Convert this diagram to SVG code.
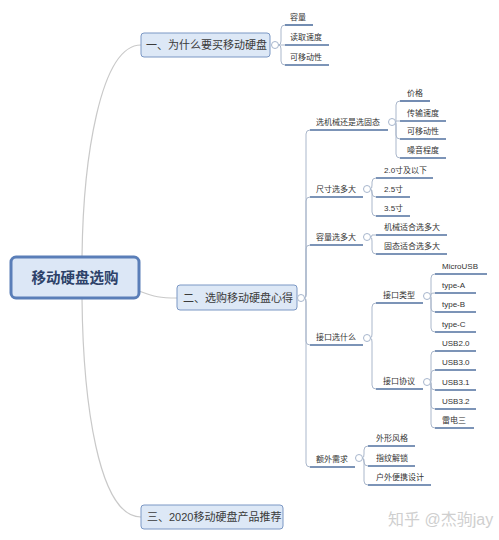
<svg xmlns="http://www.w3.org/2000/svg" width="499" height="540" viewBox="0 0 499 540">
<style>
text{font-family:"Liberation Sans","Noto Sans CJK SC",sans-serif;fill:#333}
.root rect{fill:#dce7f6;stroke:#5a7eb8;stroke-width:3}
.root text{font-size:14.5px;font-weight:bold;fill:#2d4169}
.br rect{fill:#dde8f6;stroke:#7b97c4;stroke-width:1}
.br text{font-size:11px;fill:#3a3a3a}
.lf text{font-size:8px}
.ul{stroke:#50709f;stroke-width:1.6;fill:none}
.c{fill:#fff;stroke:#a7b6cd;stroke-width:1}
.cn path{fill:none;stroke:#aab7cb;stroke-width:1}
.cn .rc{stroke:#c9c9c9;stroke-width:1.2}
.wm{font-size:16px;fill:#cfcfcf}
</style>
<rect width="499" height="540" fill="#fff"/>
<g id="connectors" class="cn">
<path class="rc" d="M82,258 C83,160 100,45 141,45"/>
<path class="rc" d="M82,298 C83,400 98,517 141,517"/>
<path class="rc" d="M139,291 C155,297 160,298 177,298"/>
<path d="M278.5,45 Q281,45 281,41 V29 Q281,25 285,25"/>
<path d="M278.5,45 H285"/>
<path d="M278.5,45 Q281,45 281,49 V61 Q281,65 285,65"/>
<path d="M304.5,298 Q306,298 306,294 V134 Q306,130 310,130"/>
<path d="M304.5,298 Q306,298 306,294 V201 Q306,197 310,197"/>
<path d="M304.5,298 Q306,298 306,294 V249 Q306,245 310,245"/>
<path d="M304.5,298 Q306,298 306,302 V341 Q306,345 310,345"/>
<path d="M304.5,298 Q306,298 306,302 V463 Q306,467 310,467"/>
<path d="M395.5,122 Q396,122 396,118 V105 Q396,101 400,101"/>
<path d="M395.5,122 Q396,122 396,121 Q396,121 400,121"/>
<path d="M395.5,122 Q396,122 396,126 V135 Q396,139 400,139"/>
<path d="M395.5,122 Q396,122 396,126 V154 Q396,158 400,158"/>
<path d="M370.5,189 Q372,189 372,185 V182 Q372,178 376,178"/>
<path d="M370.5,189 Q372,189 372,193 Q372,197 376,197"/>
<path d="M370.5,189 Q372,189 372,193 V212 Q372,216 376,216"/>
<path d="M370.5,237 Q372,237 372,235 Q372,235 376,235"/>
<path d="M370.5,237 Q372,237 372,241 V250 Q372,254 376,254"/>
<path d="M370.5,338 Q372,338 372,334 V307 Q372,303 376,303"/>
<path d="M370.5,338 Q372,338 372,342 V385 Q372,389 376,389"/>
<path d="M430.5,296 Q431,296 431,292 V278 Q431,274 435,274"/>
<path d="M430.5,296 Q431,296 431,294 Q431,293 435,293"/>
<path d="M430.5,296 Q431,296 431,300 V308 Q431,312 435,312"/>
<path d="M430.5,296 Q431,296 431,300 V328 Q431,332 435,332"/>
<path d="M430.5,382 Q431,382 431,378 V355 Q431,351 435,351"/>
<path d="M430.5,382 Q431,382 431,378 V374 Q431,370 435,370"/>
<path d="M430.5,382 Q431,382 431,386 Q431,390 435,390"/>
<path d="M430.5,382 Q431,382 431,386 V405 Q431,409 435,409"/>
<path d="M430.5,382 Q431,382 431,386 V424 Q431,428 435,428"/>
<path d="M362.5,458 Q364,458 364,454 V450 Q364,446 368,446"/>
<path d="M362.5,458 Q364,458 364,462 Q364,466 368,466"/>
<path d="M362.5,458 Q364,458 364,462 V481 Q364,485 368,485"/>
</g>
<g id="root" class="root"><rect x="11" y="257" width="128" height="41" rx="5"/><text x="75" y="282.5" text-anchor="middle">移动硬盘选购</text></g>
<g id="b1" class="br"><rect x="141" y="33" width="129" height="24" rx="3"/><text x="146" y="49">一、为什么要买移动硬盘</text><circle class="c" cx="275" cy="45" r="3.5"/></g>
<g id="b2" class="br"><rect x="177" y="285" width="120" height="25" rx="3"/><text x="183" y="302">二、选购移动硬盘心得</text><circle class="c" cx="301" cy="298" r="3.5"/></g>
<g id="b3" class="br"><rect x="141" y="505" width="142" height="24" rx="3"/><text x="147" y="521">三、2020移动硬盘产品推荐</text></g>

<g id="n-rl" class="lf"><line class="ul" x1="285" y1="25" x2="313" y2="25"/><text x="290" y="20">容量</text></g>
<g id="n-dqsd" class="lf"><line class="ul" x1="285" y1="45" x2="329" y2="45"/><text x="290" y="40">读取速度</text></g>
<g id="n-kydx1" class="lf"><line class="ul" x1="285" y1="65" x2="329" y2="65"/><text x="290" y="60">可移动性</text></g>

<g id="n-jxgt" class="lf"><line class="ul" x1="310" y1="130" x2="388" y2="130"/><text x="316" y="125">选机械还是选固态</text><circle class="c" cx="392" cy="122" r="3.5"/></g>
<g id="n-jg" class="lf"><line class="ul" x1="400" y1="101" x2="430" y2="101"/><text x="407" y="96">价格</text></g>
<g id="n-cssd" class="lf"><line class="ul" x1="400" y1="121" x2="446" y2="121"/><text x="407" y="116">传输速度</text></g>
<g id="n-kydx2" class="lf"><line class="ul" x1="400" y1="139" x2="446" y2="139"/><text x="407" y="134">可移动性</text></g>
<g id="n-zycd" class="lf"><line class="ul" x1="400" y1="158" x2="446" y2="158"/><text x="407" y="153">噪音程度</text></g>

<g id="n-ccxdd" class="lf"><line class="ul" x1="310" y1="197" x2="363" y2="197"/><text x="316" y="192">尺寸选多大</text><circle class="c" cx="367" cy="189" r="3.5"/></g>
<g id="n-20" class="lf"><line class="ul" x1="376" y1="178" x2="433" y2="178"/><text x="384" y="173">2.0寸及以下</text></g>
<g id="n-25" class="lf"><line class="ul" x1="376" y1="197" x2="410" y2="197"/><text x="384" y="192">2.5寸</text></g>
<g id="n-35" class="lf"><line class="ul" x1="376" y1="216" x2="410" y2="216"/><text x="384" y="211">3.5寸</text></g>

<g id="n-rlxdd" class="lf"><line class="ul" x1="310" y1="245" x2="363" y2="245"/><text x="316" y="240">容量选多大</text><circle class="c" cx="367" cy="237" r="3.5"/></g>
<g id="n-jx" class="lf"><line class="ul" x1="376" y1="235" x2="447" y2="235"/><text x="384" y="230">机械适合选多大</text></g>
<g id="n-gt" class="lf"><line class="ul" x1="376" y1="254" x2="447" y2="254"/><text x="384" y="249">固态适合选多大</text></g>

<g id="n-jkxsm" class="lf"><line class="ul" x1="310" y1="345" x2="363" y2="345"/><text x="316" y="340">接口选什么</text><circle class="c" cx="367" cy="338" r="3.5"/></g>
<g id="n-jklx" class="lf"><line class="ul" x1="376" y1="303" x2="423" y2="303"/><text x="383" y="298">接口类型</text><circle class="c" cx="427" cy="296" r="3.5"/></g>
<g id="n-micro" class="lf"><line class="ul" x1="435" y1="274" x2="487" y2="274"/><text x="442" y="269">MicroUSB</text></g>
<g id="n-ta" class="lf"><line class="ul" x1="435" y1="293" x2="476" y2="293"/><text x="442" y="288">type-A</text></g>
<g id="n-tb" class="lf"><line class="ul" x1="435" y1="312" x2="476" y2="312"/><text x="442" y="307">type-B</text></g>
<g id="n-tc" class="lf"><line class="ul" x1="435" y1="332" x2="476" y2="332"/><text x="442" y="327">type-C</text></g>
<g id="n-jkxy" class="lf"><line class="ul" x1="376" y1="389" x2="423" y2="389"/><text x="383" y="384">接口协议</text><circle class="c" cx="427" cy="382" r="3.5"/></g>
<g id="n-u20" class="lf"><line class="ul" x1="435" y1="351" x2="476" y2="351"/><text x="442" y="346">USB2.0</text></g>
<g id="n-u30" class="lf"><line class="ul" x1="435" y1="370" x2="476" y2="370"/><text x="442" y="365">USB3.0</text></g>
<g id="n-u31" class="lf"><line class="ul" x1="435" y1="390" x2="476" y2="390"/><text x="442" y="385">USB3.1</text></g>
<g id="n-u32" class="lf"><line class="ul" x1="435" y1="409" x2="476" y2="409"/><text x="442" y="404">USB3.2</text></g>
<g id="n-ld" class="lf"><line class="ul" x1="435" y1="428" x2="474" y2="428"/><text x="442" y="423">雷电三</text></g>

<g id="n-ewxq" class="lf"><line class="ul" x1="310" y1="467" x2="355" y2="467"/><text x="316" y="462">额外需求</text><circle class="c" cx="359" cy="458" r="3.5"/></g>
<g id="n-wxfg" class="lf"><line class="ul" x1="368" y1="446" x2="415" y2="446"/><text x="376" y="441">外形风格</text></g>
<g id="n-zwjs" class="lf"><line class="ul" x1="368" y1="466" x2="415" y2="466"/><text x="376" y="461">指纹解锁</text></g>
<g id="n-hwbx" class="lf"><line class="ul" x1="368" y1="485" x2="431" y2="485"/><text x="376" y="480">户外便携设计</text></g>

<text class="wm" x="388" y="525">知乎 @杰驹jay</text>
</svg>
